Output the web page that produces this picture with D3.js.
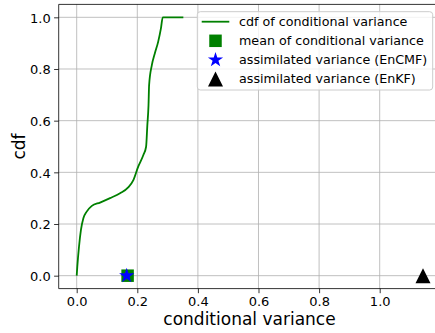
<!DOCTYPE html>
<html>
<head>
<meta charset="utf-8">
<script src="https://cdn.jsdelivr.net/npm/d3@7"></script>
<style>
  html, body { margin: 0; padding: 0; background: #fff; }
  svg { display: block; }
  text { font-family: "DejaVu Sans", sans-serif; fill: #000; }
</style>
</head>
<body>
<svg id="chart" width="435" height="333"></svg>
<script>
// ---- data ----
const cdfX = [0, 0.002, 0.0076, 0.014, 0.022, 0.033, 0.050, 0.077, 0.11, 0.143, 0.170, 0.187, 0.203, 0.22, 0.229, 0.233, 0.237, 0.239, 0.248, 0.258, 0.269, 0.278, 0.284, 0.352];
const cdfY = [0, 0.035, 0.112, 0.177, 0.222, 0.248, 0.27, 0.283, 0.30, 0.319, 0.342, 0.37, 0.422, 0.467, 0.499, 0.58, 0.66, 0.738, 0.815, 0.861, 0.906, 0.957, 1.0, 1.0];
const meanVar = [0.168];
const encmfVar = [0.165];
const enkfVar = [1.143];
const xTicks = [0.0, 0.2, 0.4, 0.6, 0.8, 1.0];
const yTicks = [0.0, 0.2, 0.4, 0.6, 0.8, 1.0];
const legendLabels = ["cdf of conditional variance", "mean of conditional variance", "assimilated variance (EnCMF)", "assimilated variance (EnKF)"];
const xLabel = "conditional variance";
const yLabel = "cdf";

// ---- layout ----
const svg = d3.select("#chart");
const pLeft = 58.7, pRight = 440.3, pTop = 4.4, pBottom = 288.6;
const x = d3.scaleLinear().domain([-0.0594, 1.2]).range([pLeft, pRight]);
const y = d3.scaleLinear().domain([-0.05, 1.05]).range([pBottom, pTop]);
const fmt = d3.format(".1f");
const green = "#008000";

// grid
const grid = svg.append("g");
grid.selectAll(".gx").data(xTicks).join("line")
  .attr("x1", d => x(d)).attr("x2", d => x(d)).attr("y1", pTop).attr("y2", pBottom)
  .attr("stroke", "#b0b0b0").attr("stroke-width", 0.8);
grid.selectAll(".gy").data(yTicks).join("line")
  .attr("y1", d => y(d)).attr("y2", d => y(d)).attr("x1", pLeft).attr("x2", pRight)
  .attr("stroke", "#b0b0b0").attr("stroke-width", 0.8);

// axes
const xAxis = svg.append("g").attr("transform", `translate(0,${pBottom})`)
  .call(d3.axisBottom(x).tickValues(xTicks).tickFormat(fmt).tickSize(4.6).tickPadding(4.4).tickSizeOuter(0));
const yAxis = svg.append("g").attr("transform", `translate(${pLeft},0)`)
  .call(d3.axisLeft(y).tickValues(yTicks).tickFormat(fmt).tickSize(4.6).tickPadding(3.4).tickSizeOuter(0));
[xAxis, yAxis].forEach(a => {
  a.select(".domain").remove();
  a.selectAll("line").attr("stroke", "#000").attr("stroke-width", 0.8);
  a.selectAll("text").attr("font-family", "DejaVu Sans, sans-serif").attr("font-size", 13).attr("fill", "#000");
});
xAxis.selectAll("text").attr("dy", null).attr("y", 17.7);
yAxis.selectAll("text").attr("dy", "0.36em");

// spines
const spine = (x1, y1, x2, y2) => svg.append("line").attr("x1", x1).attr("y1", y1).attr("x2", x2).attr("y2", y2)
  .attr("stroke", "#000").attr("stroke-width", 0.8);
spine(pLeft, pTop, pLeft, pBottom);
spine(pLeft, pBottom, pRight, pBottom);
spine(pLeft, pTop, pRight, pTop);
spine(pRight, pTop, pRight, pBottom);

// marker shapes
function markerPath(kind, s) {
  const p = d3.path();
  if (kind === "square") {
    p.rect(-s / 2, -s / 2, s, s);
  } else if (kind === "triangle") {
    p.moveTo(0, -s / 2); p.lineTo(-s / 2, s / 2); p.lineTo(s / 2, s / 2); p.closePath();
  } else if (kind === "star") {
    const r = s / 2, ri = r * 0.381966;
    for (let i = 0; i < 10; i++) {
      const a = -Math.PI / 2 + i * Math.PI / 5;
      const rr = i % 2 === 0 ? r : ri;
      if (i === 0) p.moveTo(rr * Math.cos(a), rr * Math.sin(a)); else p.lineTo(rr * Math.cos(a), rr * Math.sin(a));
    }
    p.closePath();
  }
  return p.toString();
}

// cdf line
const pts = cdfX.map((d, i) => [d, cdfY[i]]);
svg.append("path").datum(pts)
  .attr("d", d3.line().x(d => x(d[0])).y(d => y(d[1])).curve(d3.curveMonotoneX))
  .attr("fill", "none").attr("stroke", green).attr("stroke-width", 1.8).attr("stroke-linejoin", "round");

// markers
svg.selectAll(".mean").data(meanVar).join("path")
  .attr("d", markerPath("square", 12.5)).attr("transform", d => `translate(${x(d)},${y(0)})`).attr("fill", green);
svg.selectAll(".encmf").data(encmfVar).join("path")
  .attr("d", markerPath("star", 16)).attr("transform", d => `translate(${x(d)},${y(0)})`).attr("fill", "#0000ff");
svg.selectAll(".enkf").data(enkfVar).join("path")
  .attr("d", markerPath("triangle", 15)).attr("transform", d => `translate(${x(d)},${y(0)})`).attr("fill", "#000");

// axis labels
svg.append("text").attr("x", (pLeft + pRight) / 2).attr("y", 325).attr("text-anchor", "middle")
  .attr("font-size", 17).text(xLabel);
svg.append("text").attr("transform", `translate(25,${(pTop + pBottom) / 2}) rotate(-90)`).attr("text-anchor", "middle")
  .attr("font-size", 17).text(yLabel);

// legend
const lg = svg.append("g");
lg.append("rect").attr("x", 197.3).attr("y", 11.7).attr("width", 235.4).attr("height", 78.3)
  .attr("rx", 3).attr("fill", "#fff").attr("fill-opacity", 0.8).attr("stroke", "#cccccc").attr("stroke-width", 1);
const rowY = i => 21.7 + i * 19.1;
lg.append("line").attr("x1", 201.7).attr("x2", 229.3).attr("y1", rowY(0)).attr("y2", rowY(0)).attr("stroke", green).attr("stroke-width", 1.8);
lg.append("path").attr("d", markerPath("square", 12.5)).attr("transform", `translate(215.5,${rowY(1)})`).attr("fill", green);
lg.append("path").attr("d", markerPath("star", 16)).attr("transform", `translate(215.5,${rowY(2)})`).attr("fill", "#0000ff");
lg.append("path").attr("d", markerPath("triangle", 15)).attr("transform", `translate(215.5,${rowY(3)})`).attr("fill", "#000");
lg.selectAll(".lt").data(legendLabels).join("text")
  .attr("x", 239).attr("y", (d, i) => 26 + i * 19.1).attr("font-size", 12.7).text(d => d);
</script>
</body>
</html>
